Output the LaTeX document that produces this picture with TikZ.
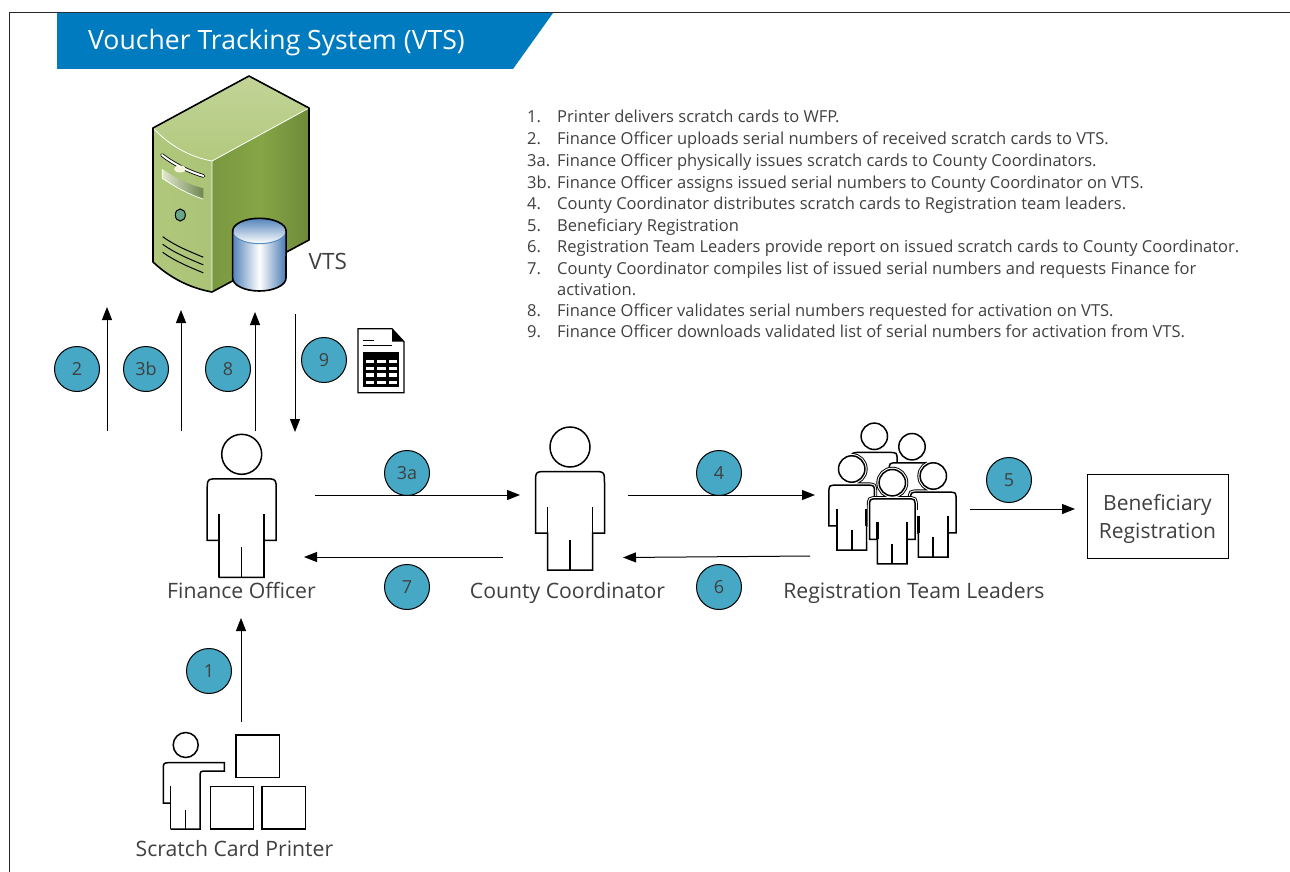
\documentclass[tikz,border=0pt]{standalone}
\usepackage{fontspec}
\setmainfont{Open Sans}
\usetikzlibrary{arrows.meta}
\definecolor{wfpblue}{HTML}{007BC0}
\definecolor{stepteal}{HTML}{46A8C4}
\definecolor{inktext}{HTML}{404040}
\tikzset{
  numdot/.style={circle,draw=black,line width=1pt,fill=stepteal,minimum size=45pt,inner sep=0pt,text=inktext,font=\fontsize{18}{20}\selectfont},
  flow/.style={line width=1pt,-{Triangle[length=13pt,width=10pt]}},
  iconline/.style={line width=1.5pt,draw=black},
  caption/.style={anchor=base,text=inktext,font=\fontsize{21.2}{25}\selectfont,inner sep=0pt},
  listline/.style={anchor=base west,text=inktext,font=\fontsize{16.5}{18}\selectfont,inner sep=0pt}
}
% one person, head centre at the origin
\newcommand{\personbody}{(-22.5,123) -- (-22.5,86) -- (-34.5,86) -- (-34.5,36.5) .. controls (-34.5,24.5) .. (-22.5,24.5) -- (22.5,24.5) .. controls (34.5,24.5) .. (34.5,36.5) -- (34.5,86) -- (22.5,86) -- (22.5,123) -- cycle (0,0) circle (20)}
\newcommand{\personicon}[3]{%
  \begin{scope}[shift={(#1,#2)},scale=#3]
    \fill[white] \personbody;
    \draw[iconline] \personbody;
    \draw[iconline] (-22.5,60) -- (-22.5,123) (22.5,60) -- (22.5,123) (0,93) -- (0,123);
  \end{scope}}
% same person with a ring round it, the ring only inside the box #4--#5
\newcommand{\ringperson}[5]{%
  \begin{scope}[shift={(#1,#2)},scale=#3]
    \begin{scope}
      \clip #4 rectangle #5;
      \draw[line width=5.5pt] \personbody;
    \end{scope}
    \draw[white,line width=3.6pt] \personbody;
  \end{scope}
  \personicon{#1}{#2}{#3}
  \begin{scope}[shift={(#1,#2)},scale=#3]
    \draw[line width=2.2pt] (-22.5,60) -- (-22.5,86) (22.5,60) -- (22.5,86) (0,93) -- (0,123);
  \end{scope}}
\begin{document}
\begin{tikzpicture}[x=1pt,y=-1pt]
  \useasboundingbox (0,0) rectangle (1290,872);
  \fill[white] (0,0) rectangle (1290,872);
  \draw[line width=.8pt,black!85] (9,872) -- (9,12.5) -- (1290,12.5);
  \fill[wfpblue] (57,13) -- (553,13) -- (513,69) -- (57,69) -- cycle;
  \node[anchor=base west,text=white,inner sep=0pt,font=\fontsize{26.6}{30}\selectfont] (title) at (88,49.5) {Voucher Tracking System (VTS)};

  % server
  \shade[left color={rgb,255:red,176;green,200;blue,124},right color={rgb,255:red,170;green,195;blue,118}] (153,128) -- (153,262) .. controls (170,278) and (190,288) .. (212,292) -- (212,161) .. controls (190,157) and (170,146) .. (153,128) -- cycle;
  \shade[left color={rgb,255:red,122;green,152;blue,64},right color={rgb,255:red,110;green,138;blue,58},middle color={rgb,255:red,134;green,165;blue,70}] (212,161) -- (309,108) -- (309,240) -- (212,292) -- cycle;
  \shade[top color={rgb,255:red,194;green,212;blue,152},bottom color={rgb,255:red,178;green,201;blue,125}] (249,76) -- (309,108) -- (212,161) .. controls (190,157) and (170,146) .. (153,128) -- cycle;
  \draw[white,line width=.8pt] (153,128) .. controls (170,146) and (190,157) .. (212,161) -- (309,108) (212,161) -- (212,292);
  \draw[line width=1.6pt,line join=round] (153,128) -- (249,76) -- (309,108) -- (309,240) -- (212,292) .. controls (190,288) and (170,278) .. (153,262) -- cycle;
  \draw[line width=3.6pt,line cap=round] (162,155) .. controls (175,165) and (190,172) .. (203.5,176);
  \draw[white,line width=2pt,line cap=round] (162,155) .. controls (175,165) and (190,172) .. (203.5,176);
  \fill[white!90!olive] (180,169) ellipse (6 and 3.5);
  \shade[left color={rgb,255:red,225;green,232;blue,205},right color={rgb,255:red,110;green,135;blue,80}] (162.3,169) .. controls (175,178) and (190,185) .. (203.3,188.3) -- (203.3,199) .. controls (190,195) and (175,187) .. (162.3,178.3) -- cycle;
  \draw[white,line width=.7pt] (162.3,169) -- (162.3,178.3) .. controls (175,187) and (190,195) .. (203.3,199);
  \draw[line width=1pt,fill={rgb,255:red,105;green,165;blue,135}] (180.3,215) ellipse (5 and 6);
  \foreach \vy in {236.7,244.3,252.3}
    \draw[line width=1pt] (162.7,\vy) .. controls (175,\vy+9) and (190,\vy+15) .. (203.3,\vy+20.5);

  % database drum
  \shade[left color={rgb,255:red,84;green,132;blue,186},right color={rgb,255:red,72;green,122;blue,178},middle color=white] (232.7,231) -- (232.7,278) arc[start angle=180,end angle=0,x radius=26.7,y radius=13] -- (286,231) -- cycle;
  \shade[top color={rgb,255:red,84;green,132;blue,186},bottom color=white] (259.3,231) ellipse (26.7 and 12.7);
  \draw[line width=1pt,draw={rgb,255:red,84;green,140;blue,196}] (232.7,231) arc[start angle=180,end angle=0,x radius=26.7,y radius=12.7];
  \draw[line width=1.6pt] (232.7,231) arc[start angle=180,end angle=360,x radius=26.7,y radius=12.7] -- (286,278) arc[start angle=0,end angle=180,x radius=26.7,y radius=13] -- cycle;
  \node[caption,anchor=base west,font=\fontsize{22.5}{25}\selectfont] (vts) at (308.5,269) {VTS};

  % numbered list
  \foreach \ly/\lno/\ltxt in {
    122.5/1./Printer delivers scratch cards to WFP.,
    144.5/2./Finance Officer uploads serial numbers of received scratch cards to VTS.,
    166.5/3a./Finance Officer physically issues scratch cards to County Coordinators.,
    188.5/3b./Finance Officer assigns issued serial numbers to County Coordinator on VTS.,
    209.5/4./County Coordinator distributes scratch cards to Registration team leaders.,
    231.5/5./Beneficiary Registration,
    252.5/6./Registration Team Leaders provide report on issued scratch cards to County Coordinator.,
    274/7./County Coordinator compiles list of issued serial numbers and requests Finance for,
    316/8./Finance Officer validates serial numbers requested for activation on VTS.,
    337.5/9./Finance Officer downloads validated list of serial numbers for activation from VTS.}
  {
    \node[listline] (no\lno) at (527,\ly) {\lno};
    \node[listline] (li\lno) at (557,\ly) {\ltxt};
  }
  \node[listline] (liwrap) at (557,295.5) {activation.};

  % people
  \personicon{241.7}{454.3}{1}
  \personicon{570}{447}{1}
  \personicon{874.3}{436.3}{.66}
  \personicon{912}{446.7}{.66}
  \ringperson{933.3}{476}{.66}{(-60,-30)}{(-10,70)}
  \ringperson{851.7}{469}{.66}{(0,-30)}{(60,90)}
  \ringperson{892.3}{482.7}{.66}{(-60,-30)}{(60,40)}
  \node[caption] (finance) at (241.5,598) {Finance Officer};
  \node[caption] (county) at (567.5,598) {County Coordinator};
  \node[caption] (leaders) at (914,598) {Registration Team Leaders};

  % printer with cards
  \draw[iconline] (185.7,745) circle (12.5);
  \draw[iconline] (170.7,803) -- (163.3,803) -- (163.3,770) .. controls (163.3,762.7) .. (170.5,762.7) -- (224.3,762.7) -- (224.3,771) -- (207,771) .. controls (200,771) .. (200,778) -- (200,829) -- (170.7,829);
  \draw[iconline] (170.7,785.7) -- (170.7,829) (185.7,810) -- (185.7,829);
  \draw[iconline] (236,735) rectangle (279.3,777.3);
  \draw[iconline] (210.3,786.7) rectangle (253.7,829);
  \draw[iconline] (262,786.7) rectangle (305.3,829);
  \node[caption] (printer) at (234.5,856) {Scratch Card Printer};

  \node[draw=black,line width=1pt,minimum width=141pt,minimum height=84pt,inner sep=0pt,text=inktext,align=center,font=\fontsize{21}{28}\selectfont] (benef) at (1157.5,516) {\rule{0pt}{22pt}Beneficiary\\Registration};

  % sheet icon
  \draw[line width=1.2pt,fill=white] (358,328.7) -- (392,328.7) -- (404,341.7) -- (404,392.7) -- (358,392.7) -- cycle;
  \fill (392,328.7) -- (404,341.7) -- (392,341.7) -- cycle;
  \draw[line width=.8pt] (363,340) -- (374,340) (363,345) -- (392,345);
  \fill (363,352.3) rectangle (399.3,387.3);
  \foreach \cx in {365.7,377.3,388.7}
    \foreach \cy in {360,366.7,373.3,381}
      \fill[white] (\cx,\cy) rectangle ++(8.3,3.2);

  % arrows
  \coordinate (a2) at (107,431);   \coordinate (b2) at (107,307);
  \coordinate (a3b) at (181,431);  \coordinate (b3b) at (181,310);
  \coordinate (a8) at (255,431);   \coordinate (b8) at (255,312);
  \coordinate (a9) at (295,314);   \coordinate (b9) at (295,432);
  \coordinate (a3a) at (315,495);  \coordinate (b3a) at (520,495);
  \coordinate (a4) at (628,495);   \coordinate (b4) at (815,495);
  \coordinate (a5) at (970,509);   \coordinate (b5) at (1075,509);
  \coordinate (a7) at (503,557);   \coordinate (b7) at (304,557);
  \coordinate (a6) at (810,556);   \coordinate (b6) at (623,557.5);
  \coordinate (a1) at (241,722);   \coordinate (b1) at (241,618);
  \foreach \n in {1,2,3a,3b,4,5,6,7,8,9}
    \draw[flow] (a\n) -- (b\n);

  % step numbers
  \node[numdot] (n2) at (77,369) {2};
  \node[numdot] (n3b) at (146,369) {3b};
  \node[numdot] (n8) at (228,369) {8};
  \node[numdot] (n9) at (324,360) {9};
  \node[numdot] (n3a) at (407,473) {3a};
  \node[numdot] (n4) at (719,473) {4};
  \node[numdot] (n5) at (1009,480) {5};
  \node[numdot] (n7) at (407,587) {7};
  \node[numdot] (n6) at (719,587) {6};
  \node[numdot] (n1) at (209,671) {1};
\end{tikzpicture}
\end{document}
